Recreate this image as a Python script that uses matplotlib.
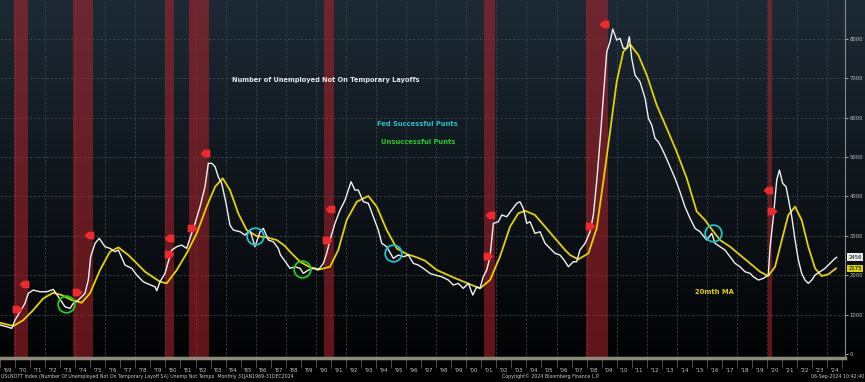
import numpy as np
import matplotlib.pyplot as plt
from matplotlib.path import Path
from matplotlib.transforms import blended_transform_factory

# USLNOTT (thousands), decimal years
unemp_years = [1969.00, 1969.45, 1969.78, 1970.00, 1970.33, 1970.66, 1970.88, 1971.21, 1971.66, 1972.11,
               1972.54, 1972.88, 1973.32, 1973.65, 1973.87, 1974.21, 1974.65, 1974.87, 1975.03, 1975.32,
               1975.60, 1975.98, 1976.31, 1976.65, 1976.87, 1977.31, 1977.76, 1978.09, 1978.53, 1978.75,
               1979.31, 1979.42, 1979.64, 1979.97, 1980.19, 1980.42, 1980.75, 1981.08, 1981.41, 1981.63,
               1981.97, 1982.30, 1982.63, 1982.85, 1983.08, 1983.30, 1983.51, 1983.74, 1984.03, 1984.29,
               1984.51, 1984.96, 1985.29, 1985.62, 1985.95, 1986.29, 1986.51, 1986.84, 1987.17, 1987.50,
               1987.65, 1987.90, 1988.28, 1988.61, 1988.95, 1989.17, 1989.50, 1989.83, 1990.16, 1990.50,
               1990.72, 1990.94, 1991.27, 1991.61, 1991.94, 1992.16, 1992.34, 1992.60, 1992.82, 1993.16,
               1993.49, 1993.82, 1994.15, 1994.38, 1994.71, 1995.15, 1995.48, 1995.82, 1996.15, 1996.48,
               1996.81, 1997.14, 1997.59, 1997.92, 1998.37, 1998.81, 1999.14, 1999.47, 1999.80, 2000.14,
               2000.43, 2000.70, 2000.91, 2001.13, 2001.36, 2001.58, 2001.80, 2002.13, 2002.36, 2002.69,
               2003.02, 2003.36, 2003.57, 2003.79, 2004.02, 2004.24, 2004.57, 2004.90, 2005.24, 2005.57,
               2005.90, 2006.23, 2006.50, 2006.79, 2007.12, 2007.34, 2007.56, 2007.90, 2008.23, 2008.45,
               2008.67, 2008.89, 2009.11, 2009.34, 2009.56, 2009.74, 2010.00, 2010.22, 2010.44, 2010.67,
               2010.84, 2011.00, 2011.22, 2011.55, 2011.89, 2012.11, 2012.33, 2012.55, 2012.77, 2013.00,
               2013.21, 2013.55, 2013.88, 2014.21, 2014.54, 2014.88, 2015.21, 2015.54, 2015.81, 2015.99,
               2016.32, 2016.54, 2016.87, 2017.20, 2017.54, 2017.87, 2018.20, 2018.53, 2018.87, 2019.09,
               2019.42, 2019.75, 2020.08, 2020.20, 2020.42, 2020.64, 2020.82, 2021.04, 2021.26, 2021.41,
               2021.64, 2021.86, 2022.08, 2022.30, 2022.52, 2022.74, 2022.97, 2023.19, 2023.52, 2023.85,
               2024.19, 2024.52, 2024.63]
unemp_values = [740, 693, 652, 863, 1074, 1286, 1540, 1624, 1581, 1581,
                1641, 1455, 1201, 1159, 1286, 1370, 1540, 1878, 2470, 2810,
                2937, 2724, 2682, 2597, 2640, 2259, 2175, 2005, 1835, 1794,
                1708, 1607, 1835, 2048, 2343, 2640, 2724, 2766, 2682, 2937,
                3317, 3739, 4246, 4840, 4840, 4754, 4500, 4331, 3825, 3274,
                3147, 3104, 3020, 3147, 2724, 3104, 3190, 2893, 2851, 2682,
                2513, 2386, 2175, 2216, 2175, 2048, 2132, 2175, 2132, 2302,
                2556, 2893, 3317, 3655, 3909, 4162, 4373, 4162, 4162, 3866,
                3825, 3485, 3147, 2810, 2724, 2429, 2513, 2470, 2513, 2302,
                2259, 2175, 2048, 2005, 1962, 1878, 1751, 1794, 1667, 1794,
                1497, 1708, 1667, 1962, 2132, 2470, 3317, 3358, 3528, 3485,
                3655, 3825, 3866, 3697, 3317, 3358, 3063, 3104, 2810, 2682,
                2556, 2513, 2386, 2216, 2343, 2343, 2640, 2810, 3104, 3528,
                4373, 5388, 6489, 7672, 7926, 8248, 7969, 8012, 7758, 7758,
                8053, 7504, 7081, 6911, 6489, 5982, 5812, 5474, 5388, 5221,
                5051, 4754, 4459, 4119, 3739, 3444, 3190, 3104, 2977, 2893,
                3063, 2810, 2724, 2640, 2470, 2302, 2216, 2089, 2048, 1962,
                1878, 1921, 2005, 2724, 3485, 4416, 4670, 4331, 4246, 3952,
                3485, 2893, 2386, 2048, 1878, 1794, 1878, 2005, 2089, 2175,
                2302, 2429, 2456]

# 20 month moving average
ma_years = [1969.00, 1969.89, 1970.55, 1971.21, 1971.88, 1972.54, 1973.10, 1973.77, 1974.43, 1974.98,
            1975.65, 1976.31, 1976.87, 1977.53, 1978.09, 1978.64, 1978.97, 1979.64, 1980.08, 1980.75,
            1981.41, 1982.08, 1982.74, 1983.30, 1983.81, 1984.29, 1984.84, 1985.40, 1986.07, 1986.73,
            1987.40, 1987.95, 1988.28, 1988.95, 1989.61, 1990.28, 1990.94, 1991.49, 1992.05, 1992.72,
            1993.49, 1994.05, 1994.71, 1995.38, 1996.04, 1996.71, 1997.26, 1998.04, 1999.14, 2000.25,
            2000.91, 2001.58, 2002.24, 2002.91, 2003.46, 2003.91, 2004.57, 2005.24, 2005.90, 2006.57,
            2006.90, 2007.45, 2008.12, 2008.67, 2009.11, 2009.56, 2010.00, 2010.44, 2010.89, 2011.44,
            2012.00, 2012.66, 2013.33, 2013.99, 2014.66, 2015.32, 2015.87, 2016.32, 2016.87, 2017.54,
            2018.20, 2018.87, 2019.53, 2020.08, 2020.53, 2020.98, 2021.41, 2021.86, 2022.30, 2022.74,
            2023.19, 2023.63, 2024.07, 2024.58]
ma_values = [795, 711, 863, 1117, 1413, 1556, 1497, 1370, 1302, 1540,
             2132, 2597, 2707, 2513, 2302, 2089, 2005, 1835, 1794, 2132,
             2556, 3063, 3739, 4246, 4459, 4162, 3571, 3147, 2995, 2961,
             2893, 2741, 2597, 2343, 2200, 2150, 2216, 2640, 3401, 3866,
             4010, 3739, 3147, 2682, 2538, 2454, 2368, 2132, 1946, 1769,
             1667, 1878, 2470, 3231, 3571, 3637, 3528, 3231, 2937, 2640,
             2513, 2403, 2556, 3190, 4373, 5642, 6911, 7672, 7858, 7589,
             7081, 6320, 5728, 5134, 4459, 3620, 3401, 3165, 2893, 2724,
             2513, 2302, 2089, 1980, 2216, 2893, 3528, 3739, 3401, 2724,
             2175, 1980, 2023, 2175]

# US recessions (shaded)
rec_start = [1969.92, 1973.88, 1980.00, 1981.54, 1990.54, 2001.21, 2007.96, 2020.05]
rec_end = [1970.88, 1975.21, 1980.54, 1982.88, 1991.21, 2001.88, 2009.44, 2020.31]

# red event flags
flag_left_x = [1970.60, 1974.94, 1980.26, 1982.63, 1990.94, 2001.58, 2009.16, 2020.08]
flag_left_y = [1769, 3020, 2937, 5109, 3672, 3528, 8367, 4162]
flag_right_x = [1970.15, 1974.10, 1980.26, 1981.75, 1990.76, 2001.47, 2008.23, 2020.31]
flag_right_y = [1134, 1581, 2538, 3190, 2893, 2487, 3256, 3637]

# circled punts
good_x = [1985.95, 1995.13, 2016.39]
good_y = [2987, 2571, 3063]
bad_x = [1973.39, 1989.10]
bad_y = [1261, 2157]

last_val = 2456
last_ma = 2175

W, H = 865, 382
fig = plt.figure(figsize=(W / 100, H / 100), dpi=100)
fig.patch.set_facecolor("black")

# background gradient behind the plot
bg = fig.add_axes([0, 1 - 358 / H, 1, 358 / H])
t = np.linspace(0, 1, 256).reshape(-1, 1, 1)
top = np.array([0x1d, 0x2a, 0x35]) / 255
bot = np.array([0x02, 0x03, 0x04]) / 255
img = top * (1 - t) + bot * t
bg.imshow(img, aspect="auto", extent=[0, 1, 0, 1])
bg.axis("off")

ax = fig.add_axes([0, 1 - 358 / H, 845 / W, 358 / H])
ax.set_facecolor("none")
ax.set_xlim(1969.0, 2025.18)
ax.set_ylim(-100, 8985)

for a, b in zip(rec_start, rec_end):
    ax.axvspan(a, b, color="#b0232b", alpha=0.55, lw=0, zorder=1)

for yr in range(1970, 2026, 2):
    ax.axvline(yr, color="#3a4149", lw=0.6, ls=(0, (3, 2)), zorder=0.5)
for v in range(1000, 9000, 1000):
    ax.axhline(v, color="#3a4149", lw=0.6, ls=(0, (3, 2)), zorder=0.5)

ax.plot(ma_years, ma_values, color="#e3d200", lw=1.3, zorder=3)
ax.plot(unemp_years, unemp_values, color="#f0f0f0", lw=1.0, zorder=4)

left_flag = Path([(-1, 0), (-0.2, 0.75), (1, 0.75), (1, -0.75), (-0.2, -0.75), (-1, 0)],
                 [Path.MOVETO] + [Path.LINETO] * 4 + [Path.CLOSEPOLY])
right_flag = Path([(1, 0), (0.2, 0.75), (-1, 0.75), (-1, -0.75), (0.2, -0.75), (1, 0)],
                  [Path.MOVETO] + [Path.LINETO] * 4 + [Path.CLOSEPOLY])
ax.plot(flag_left_x, flag_left_y, ls="none", marker=left_flag, ms=6, color="#ee2a2e", zorder=6)
ax.plot(flag_right_x, flag_right_y, ls="none", marker=right_flag, ms=6, color="#ee2a2e", zorder=6)

ax.plot(good_x, good_y, ls="none", marker="o", ms=12, mfc="none", mec="#1ec3cc", mew=1.3, zorder=5)
ax.plot(bad_x, bad_y, ls="none", marker="o", ms=12, mfc="none", mec="#22cc22", mew=1.3, zorder=5)

ax.text(0.386, 0.7765, "Number of Unemployed Not On Temporary Layoffs", transform=ax.transAxes,
        color="#e6e6e6", fontsize=4.8, fontweight="bold", ha="center", va="center")
ax.text(0.4935, 0.6536, "Fed Successful Punts", transform=ax.transAxes,
        color="#1ec3cc", fontsize=4.9, fontweight="bold", ha="center", va="center")
ax.text(0.4947, 0.6034, "Unsuccessful Punts", transform=ax.transAxes,
        color="#22cc22", fontsize=4.9, fontweight="bold", ha="center", va="center")
ax.text(0.846, 0.1844, "20mth MA", transform=ax.transAxes,
        color="#e3d200", fontsize=4.9, fontweight="bold", ha="center", va="center")

# x axis: year labels centred in each year, ticks on year boundaries
years = np.arange(1969, 2025)
ax.set_xticks(years + 0.5)
ax.set_xticklabels(["'%02d" % (y % 100) for y in years])
ax.set_xticks(np.arange(1969, 2026), minor=True)
ax.tick_params(axis="x", which="major", length=0, pad=7, labelsize=4, colors="#c8c8c8")
ax.tick_params(axis="x", which="minor", length=7, color="#5a5a5a", width=0.6)

ax.yaxis.tick_right()
ax.set_yticks(range(0, 9000, 1000))
ax.tick_params(axis="y", length=2, width=0.6, pad=1.5, labelsize=3.8, colors="#c0c0c0")

for s in ["top", "left"]:
    ax.spines[s].set_visible(False)
ax.spines["right"].set_color("#8a8a8a")
ax.spines["right"].set_linewidth(0.8)
ax.spines["bottom"].set_color("#8c8a78")
ax.spines["bottom"].set_linewidth(2.5)

tr = blended_transform_factory(ax.transAxes, ax.transData)
ax.text(1.004, last_val, str(last_val), transform=tr, fontsize=3.8, color="black", va="center",
        ha="left", bbox=dict(boxstyle="square,pad=0.25", fc="#ececec", ec="none"), zorder=7, clip_on=False)
ax.text(1.004, last_ma, str(last_ma), transform=tr, fontsize=3.8, color="black", va="center",
        ha="left", bbox=dict(boxstyle="square,pad=0.25", fc="#d8d000", ec="none"), zorder=7, clip_on=False)

fig.text(0.001, 0.008, "USLNOTT Index (Number Of Unemployed Not On Temporary Layoff SA) Unemp Not Tempo  "
         "Monthly 31JAN1969-31DEC2024", fontsize=3.4, color="#c8c8c8", ha="left", va="bottom")
fig.text(0.637, 0.008, "Copyright\u00a9 2024 Bloomberg Finance L.P.", fontsize=3.4, color="#c8c8c8",
         ha="center", va="bottom")
fig.text(0.999, 0.008, "06-Sep-2024 10:42:40", fontsize=3.4, color="#c8c8c8", ha="right", va="bottom")

fig.savefig("out.png", dpi=100, facecolor=fig.get_facecolor())
